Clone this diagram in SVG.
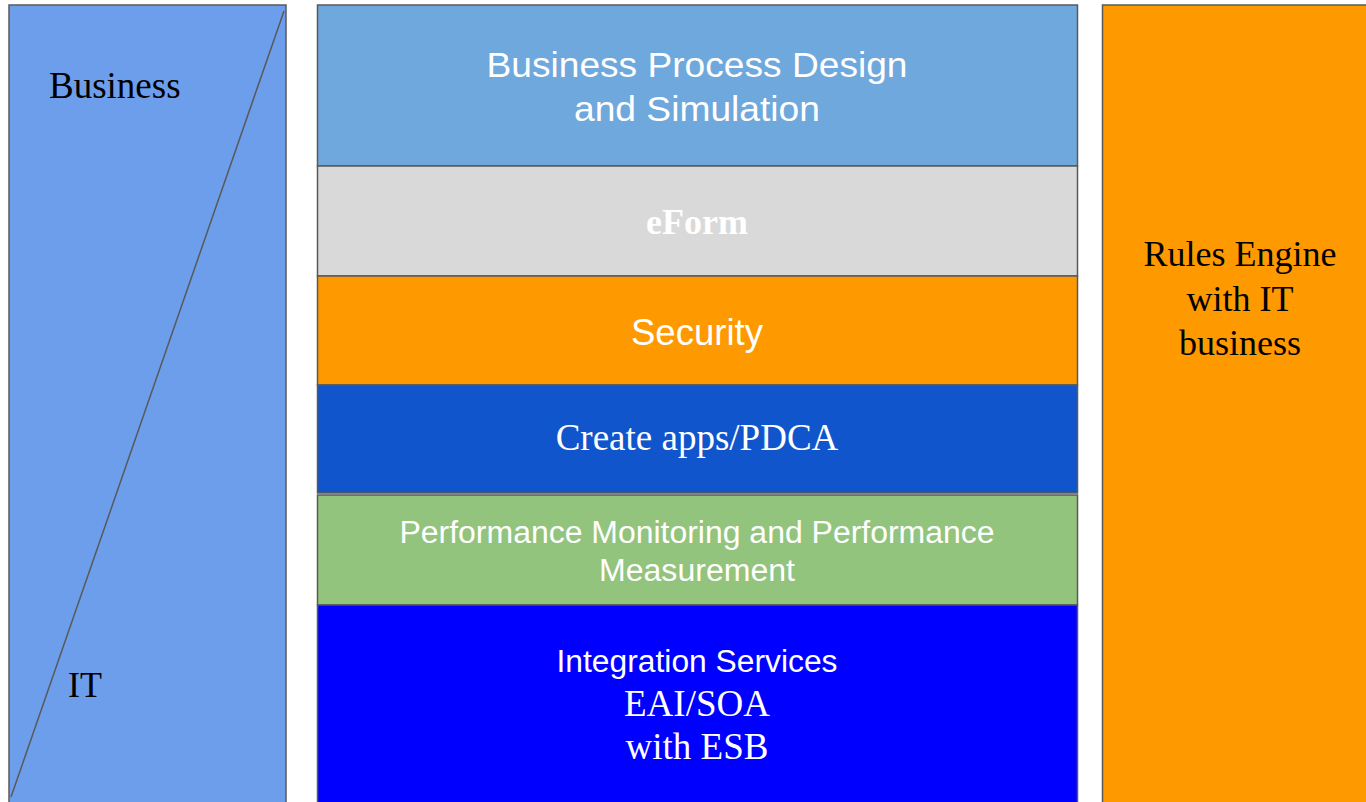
<svg xmlns="http://www.w3.org/2000/svg" width="1366" height="802" viewBox="0 0 1366 802">
<style>
.box{stroke:#595959;stroke-width:1.5}
.sans{font-family:"Liberation Sans",Arial,sans-serif;fill:#fff;text-anchor:middle}
.serif{font-family:"Liberation Serif","Times New Roman",serif}
.w{fill:#fff;text-anchor:middle}
.k{fill:#000}
</style>
<rect width="1366" height="802" fill="#fff"/>
<g id="business-it">
<rect class="box" x="9" y="5" width="277" height="810" fill="#6d9eeb"/>
<line x1="284" y1="11" x2="11" y2="797" stroke="#595959" stroke-width="1.5"/>
<text class="serif k" x="49" y="98" font-size="37">Business</text>
<text class="serif k" x="68" y="697" font-size="36">IT</text>
</g>
<g id="bpd">
<rect class="box" x="317.5" y="5" width="760" height="161" fill="#6fa8dc"/>
<text class="sans" x="697" y="77" font-size="35" textLength="421" lengthAdjust="spacingAndGlyphs">Business Process Design</text>
<text class="sans" x="697" y="121" font-size="35" textLength="246" lengthAdjust="spacingAndGlyphs">and Simulation</text>
</g>
<g id="eform">
<rect class="box" x="317.5" y="166" width="760" height="110" fill="#d9d9d9"/>
<text class="serif w" x="697" y="234" font-size="36" font-weight="bold">eForm</text>
</g>
<g id="security">
<rect class="box" x="317.5" y="276" width="760" height="109" fill="#ff9900"/>
<text class="sans" x="697" y="345" font-size="36" textLength="132" lengthAdjust="spacingAndGlyphs">Security</text>
</g>
<g id="create-apps">
<rect class="box" x="317.5" y="385" width="760" height="108" fill="#1155cc"/>
<text class="serif w" x="697" y="450" font-size="37">Create apps/PDCA</text>
</g>
<g id="performance">
<rect class="box" x="317.5" y="495" width="760" height="110" fill="#93c47d"/>
<text class="sans" x="697" y="543" font-size="31" textLength="595" lengthAdjust="spacingAndGlyphs">Performance Monitoring and Performance</text>
<text class="sans" x="697" y="581" font-size="31" textLength="196" lengthAdjust="spacingAndGlyphs">Measurement</text>
</g>
<g id="integration">
<rect class="box" x="317.5" y="605" width="760" height="210" fill="#0000ff"/>
<text class="sans" x="697" y="672" font-size="31" textLength="281" lengthAdjust="spacingAndGlyphs">Integration Services</text>
<text class="serif w" x="697" y="716" font-size="37">EAI/SOA</text>
<text class="serif w" x="697" y="759" font-size="37">with ESB</text>
</g>
<g id="rules-engine">
<rect class="box" x="1102.5" y="5" width="280" height="810" fill="#ff9900"/>
<text class="serif k" x="1240" y="266" font-size="36" text-anchor="middle">Rules Engine</text>
<text class="serif k" x="1240" y="311" font-size="36" text-anchor="middle">with IT</text>
<text class="serif k" x="1240" y="355" font-size="36" text-anchor="middle">business</text>
</g>
<g id="connectors"></g>
</svg>
